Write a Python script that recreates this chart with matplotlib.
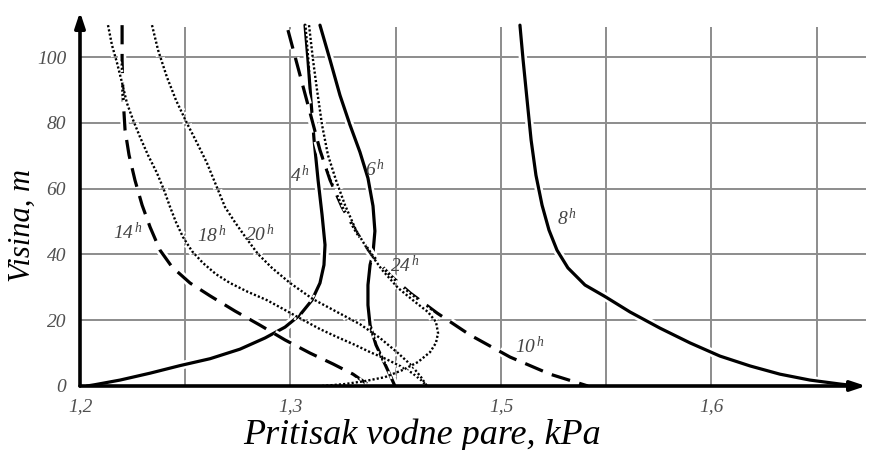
import matplotlib
matplotlib.use("Agg")
import matplotlib.pyplot as plt
import matplotlib.patheffects as pe

plt.rcParams['font.family'] = ['Liberation Serif', 'DejaVu Serif']
plt.rcParams['mathtext.fontset'] = 'custom'
plt.rcParams['mathtext.it'] = 'Liberation Serif:italic'
plt.rcParams['mathtext.rm'] = 'Liberation Serif:italic'

# vapour pressure profiles (kPa) against height (m), by hour of day
x_4h = [1.3069, 1.3083, 1.3097, 1.3112, 1.3131, 1.3150, 1.3164, 1.3159, 1.3140, 1.3102,
        1.3045, 1.2974, 1.2879, 1.2760, 1.2618, 1.2475, 1.2333, 1.2190, 1.2071, 1.2033]
y_4h = [109.7, 99.1, 86.9, 74.8, 62.6, 52.0, 42.9, 36.8, 31.3, 26.1,
        21.6, 17.9, 14.6, 11.2, 8.3, 6.2, 3.9, 1.8, 0.4, 0]

x_6h = [1.3140, 1.3188, 1.3235, 1.3283, 1.3330, 1.3368, 1.3392, 1.3401, 1.3392, 1.3378,
        1.3368, 1.3368, 1.3378, 1.3406, 1.3444, 1.3473, 1.3496]
y_6h = [109.7, 99.1, 88.4, 79.3, 71.1, 63.2, 54.7, 47.1, 40.4, 36.8,
        30.7, 24.6, 18.5, 12.5, 7.3, 3.3, 0]

x_8h = [1.4090, 1.4105, 1.4124, 1.4143, 1.4166, 1.4195, 1.4228, 1.4266, 1.4318, 1.4399,
        1.4494, 1.4613, 1.4755, 1.4898, 1.5040, 1.5183, 1.5325, 1.5468, 1.5610, 1.5691]
y_8h = [109.7, 99.1, 86.9, 74.8, 64.1, 55.0, 47.4, 41.3, 35.9, 30.7,
        27.2, 22.5, 17.6, 13.1, 9.1, 6.1, 3.6, 1.8, 0.6, 0]

x_10h = [1.2988, 1.3026, 1.3064, 1.3102, 1.3140, 1.3188, 1.3245, 1.3316, 1.3387, 1.3473,
         1.3568, 1.3696, 1.3853, 1.4043, 1.4233, 1.4413]
y_10h = [108.2, 99.1, 90.0, 80.9, 71.7, 62.6, 54.4, 46.5, 39.8, 33.7,
         28.3, 22.2, 15.5, 8.8, 3.6, 0]

x_14h = [1.2200, 1.2200, 1.2204, 1.2214, 1.2233, 1.2261, 1.2295, 1.2333, 1.2380, 1.2437,
         1.2523, 1.2618, 1.2736, 1.2855, 1.2974, 1.3093, 1.3202, 1.3297, 1.3378]
y_14h = [109.7, 99.1, 88.4, 77.8, 70.2, 62.6, 55.0, 48.3, 41.3, 36.2,
         31.3, 27.4, 22.8, 18.5, 14.0, 10.0, 6.7, 3.6, 0]

x_18h = [1.2133, 1.2152, 1.2176, 1.2200, 1.2223, 1.2252, 1.2285, 1.2323, 1.2366, 1.2399,
         1.2428, 1.2456, 1.2489, 1.2532, 1.2584, 1.2646, 1.2713, 1.2798, 1.2888, 1.2974,
         1.3059, 1.3140, 1.3221, 1.3306, 1.3378, 1.3454, 1.3520, 1.3577, 1.3620, 1.3648]
y_18h = [109.7, 103.6, 98.2, 92.1, 86.0, 80.9, 75.7, 70.2, 64.7, 59.6,
         54.4, 49.8, 45.3, 41.0, 37.4, 34.0, 31.3, 28.6, 26.1, 23.1,
         20.1, 17.3, 14.9, 12.5, 10.3, 8.2, 6.1, 4.0, 1.8, 0]

x_20h = [1.2342, 1.2371, 1.2413, 1.2456, 1.2508, 1.2556, 1.2603, 1.2646, 1.2689, 1.2736,
         1.2789, 1.2846, 1.2912, 1.2998, 1.3107, 1.3221, 1.3330, 1.3425, 1.3511, 1.3577,
         1.3620, 1.3648]
y_20h = [109.7, 102.1, 93.9, 86.9, 79.9, 73.9, 67.8, 61.1, 54.4, 49.8,
         45.0, 40.1, 35.9, 31.3, 26.4, 22.5, 18.8, 14.6, 10.0, 6.1,
         2.7, 0]

x_24h = [1.3088, 1.3107, 1.3126, 1.3150, 1.3178, 1.3216, 1.3259, 1.3311, 1.3368, 1.3435,
         1.3511, 1.3587, 1.3653, 1.3691, 1.3701, 1.3691, 1.3663, 1.3606, 1.3534, 1.3449,
         1.3354, 1.3259, 1.3150]
y_24h = [109.7, 99.1, 90.0, 79.3, 70.2, 62.6, 55.0, 47.4, 41.3, 35.3,
         29.8, 25.8, 22.5, 19.5, 16.1, 13.1, 10.3, 7.3, 4.9, 2.7,
         1.5, 0.6, 0]

hour_labels = ['4', '6', '8', '10', '14', '18', '20', '24']
label_x = [1.3045, 1.3400, 1.4314, 1.4138, 1.2228, 1.2627, 1.2855, 1.3544]
label_y = [64.1, 65.7, 51.0, 11.9, 46.8, 45.9, 46.2, 36.5]

y_ticks = [0, 20, 40, 60, 80, 100]
x_ticks = [1.2, 1.3, 1.4, 1.5]
x_tick_labels = ['1,2', '1,3', '1,5', '1,6']
x_grid = [1.25, 1.3, 1.35, 1.4, 1.45, 1.5, 1.55]

fig = plt.figure(figsize=(8.69, 4.5), dpi=100)
ax = fig.add_axes([80 / 869, 64 / 450, 786 / 869, 374 / 450])
ax.set_xlim(1.2, 1.5734)
ax.set_ylim(0, 113.7)

# grid
grid_kw = dict(color='#8c8c8c', lw=1.4, zorder=1)
ax.vlines(x_grid, 0, 109, **grid_kw)
ax.hlines(y_ticks[1:], 1.2, 1.5734, **grid_kw)

halo = [pe.Stroke(linewidth=6, foreground='white'), pe.Normal()]
solid = dict(color='black', lw=2.3, ls='-', solid_capstyle='round', solid_joinstyle='round')
dashed = dict(color='black', lw=2.3, ls=(0, (6, 3)))
dotted = dict(color='black', lw=1.7, ls=(0, (0.9, 0.9)))

curves = [
    (x_4h, y_4h, solid), (x_6h, y_6h, solid), (x_8h, y_8h, solid),
    (x_10h, y_10h, dashed), (x_14h, y_14h, dashed),
    (x_18h, y_18h, dotted), (x_20h, y_20h, dotted), (x_24h, y_24h, dotted),
]
for xs, ys, style in curves:
    ax.plot(xs, ys, zorder=3, path_effects=halo, **style)

for h, lx, ly in zip(hour_labels, label_x, label_y):
    ax.text(lx, ly, r'$%s^{\,h}$' % h, fontsize=14, color='#444444',
            ha='center', va='center', zorder=4)

# axes drawn as arrows
for s in ax.spines.values():
    s.set_visible(False)
arrow = dict(arrowstyle='-|>,head_length=0.9,head_width=0.3', lw=2.6, color='black',
             shrinkA=0, shrinkB=0)
ax.annotate('', xy=(1.0, 0), xytext=(0, 0), xycoords='axes fraction', arrowprops=arrow, zorder=5)
ax.annotate('', xy=(0, 1.0), xytext=(0, 0), xycoords='axes fraction', arrowprops=arrow, zorder=5)

tick_font = dict(fontsize=14, style='italic', color='#505050')
ax.set_yticks(y_ticks)
ax.set_yticklabels([str(v) for v in y_ticks], **tick_font)
ax.set_xticks(x_ticks)
ax.set_xticklabels(x_tick_labels, **tick_font)
ax.tick_params(length=0)
ax.tick_params(axis='y', pad=10)
ax.tick_params(axis='x', pad=9)

ax.text(0.435, -0.131, 'Pritisak vodne pare, kPa', transform=ax.transAxes,
        fontsize=26, style='italic', ha='center', va='center')
ax.text(-0.074, 0.43, 'Visina, m', transform=ax.transAxes, rotation=90,
        fontsize=22, style='italic', ha='center', va='center')

fig.savefig('out.png', dpi=100)
